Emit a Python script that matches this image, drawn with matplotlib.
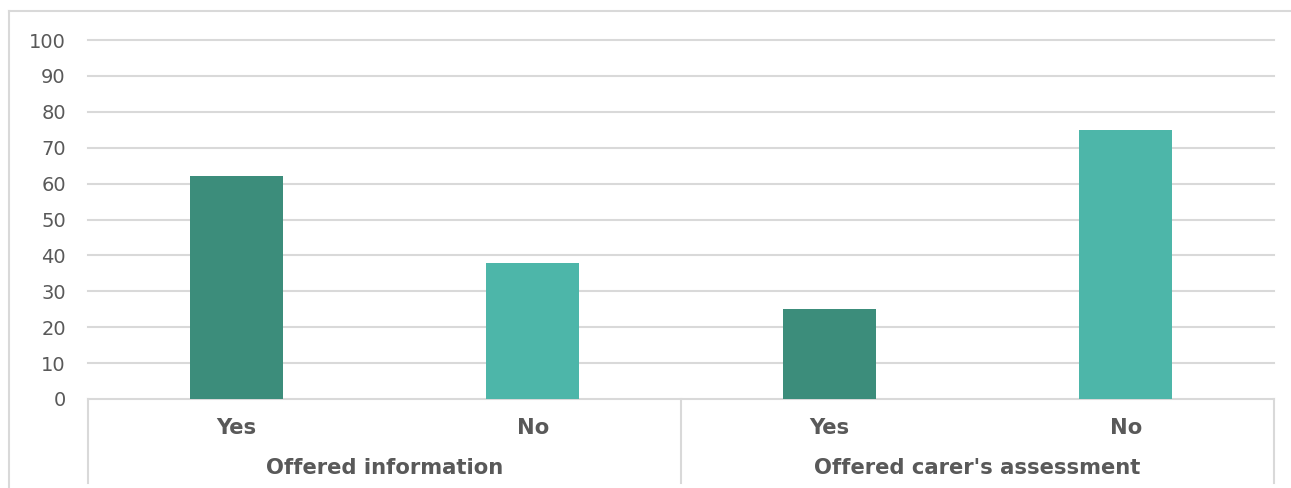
import matplotlib
matplotlib.use("Agg")
import matplotlib.pyplot as plt
from matplotlib.lines import Line2D
from matplotlib.transforms import blended_transform_factory

# Survey responses (%)
groups = ["Offered information", "Offered carer's assessment"]
answers = ["Yes", "No", "Yes", "No"]
values = [62, 38, 25, 75]
bar_colors = ["#3C8D7B", "#4DB6A9", "#3C8D7B", "#4DB6A9"]
y_ticks = [0, 10, 20, 30, 40, 50, 60, 70, 80, 90, 100]

text_color = "#595959"
line_color = "#D9D9D9"
W, H = 1291, 488

plt.rcParams["font.family"] = ["Verdana", "DejaVu Sans"]

fig = plt.figure(figsize=(W / 100, H / 100), dpi=100)
ax = fig.add_axes([88 / W, 1 - 399 / H, (1274 - 88) / W, (399 - 40) / H])

x = list(range(len(values)))
ax.bar(x, values, width=0.315, color=bar_colors, zorder=3)

ax.set_xlim(-0.5, len(values) - 0.5)
ax.set_ylim(0, 100)
ax.set_yticks(y_ticks)
ax.set_yticklabels([str(t) for t in y_ticks])
ax.tick_params(axis="y", length=0, pad=16, labelsize=14, labelcolor=text_color)
ax.set_xticks([])
for s in ax.spines.values():
    s.set_visible(False)

# Horizontal gridlines (unclipped so the top one keeps full width)
for t in y_ticks:
    ax.axhline(t, color=line_color, linewidth=1.5, zorder=0, clip_on=False)

# Two-level category labels
trans = blended_transform_factory(ax.transData, fig.transFigure)
for xi, lab in zip(x, answers):
    ax.text(xi, 1 - 428 / H, lab, transform=trans, ha="center", va="center",
            fontsize=15.2, fontweight="bold", color=text_color)
n_per = len(values) // len(groups)
for gi, g in enumerate(groups):
    cx = gi * n_per + (n_per - 1) / 2
    ax.text(cx, 1 - 468 / H, g, transform=trans, ha="center", va="center",
            fontsize=15.2, fontweight="bold", color=text_color)

# Group dividers below the axis
for gi in range(len(groups) + 1):
    xd = gi * n_per - 0.5
    ax.add_line(Line2D([xd, xd], [1 - 399 / H, 1 - 483 / H], transform=trans,
                       color=line_color, linewidth=1.5, clip_on=False))

# Chart area border (left and top edges)
fig.add_artist(Line2D([9 / W, 9 / W], [0, 1 - 11 / H], transform=fig.transFigure,
                      color=line_color, linewidth=1.5))
fig.add_artist(Line2D([9 / W, 1], [1 - 11 / H, 1 - 11 / H], transform=fig.transFigure,
                      color=line_color, linewidth=1.5))

fig.savefig("out.png", dpi=100)
